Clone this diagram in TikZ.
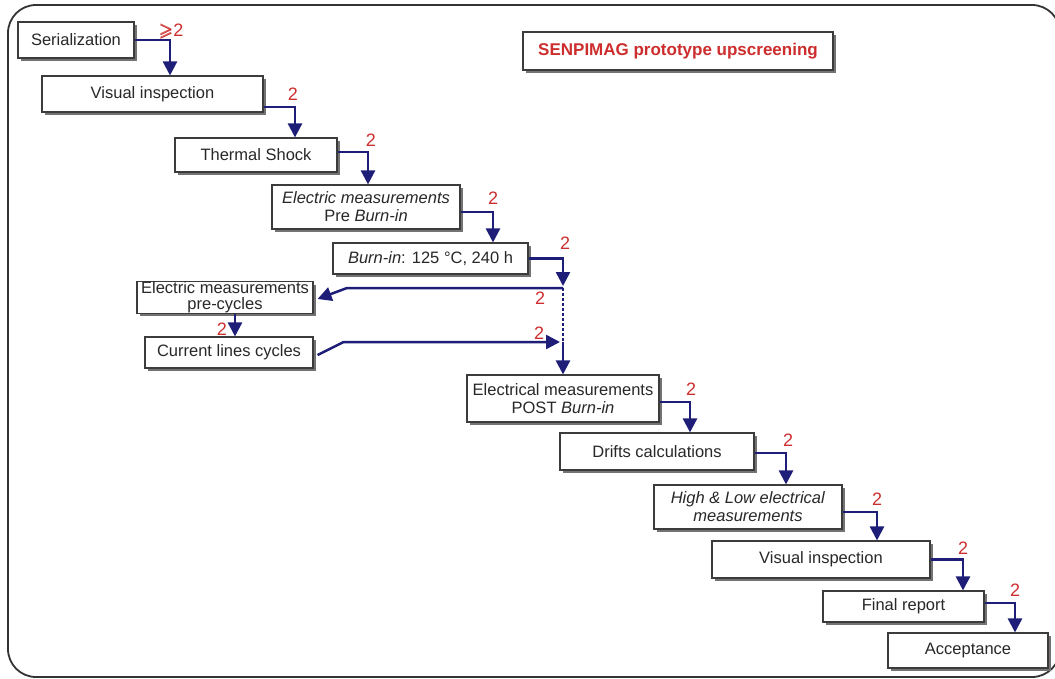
\documentclass[tikz,border=0pt]{standalone}
\usepackage{fontspec}
\setmainfont{Liberation Sans}
\usepackage{amssymb}
\usepackage{bm}
\usetikzlibrary{arrows.meta,shadows}
\definecolor{navy}{RGB}{30,30,120}
\definecolor{lblred}{RGB}{205,45,45}
\definecolor{boxline}{RGB}{60,60,60}
\definecolor{txt}{RGB}{40,40,40}
\begin{document}
\begin{tikzpicture}[x=1pt,y=-1pt,
  box/.style={draw=boxline, line width=1.1pt, fill=white, inner sep=0pt, align=center, text=txt,
    font=\fontsize{16.5}{18}\selectfont,
    drop shadow={shadow xshift=3pt, shadow yshift=-3pt, fill=black!55, opacity=1}},
  conn/.style={draw=navy, line width=2.5pt, -{Triangle[width=14pt,length=14pt]}},
  num/.style={text=lblred, font=\fontsize{18}{18}\selectfont, inner sep=0pt}]
\useasboundingbox (0,0) rectangle (1055,679);
% outer frame
\draw[draw=black!80, line width=1.8pt, rounded corners=28pt] (8,5) rectangle (1060,677);
% title
\node[box, text=lblred, font=\bfseries\fontsize{17}{18}\selectfont, minimum width=310pt, minimum height=38pt] (title) at (678,51) {SENPIMAG prototype upscreening};
% steps
\node[box, minimum width=116pt, minimum height=36pt] (ser) at (76,40) {Serialization};
\node[box, minimum width=221pt, minimum height=36pt] (vi1) at (152.5,94) {Visual inspection};
\node[box, minimum width=162pt, minimum height=34pt] (ts) at (256,155) {Thermal Shock};
\node[box, minimum width=188pt, minimum height=44pt] (em) at (366,207) {\textit{Electric measurements}\\Pre \textit{Burn-in}};
\node[box, minimum width=195pt, minimum height=31pt] (burn) at (430.5,258.5) {\textit{Burn-in}: 125 °C, 240 h};
\node[box, minimum width=176pt, minimum height=29pt, font=\fontsize{16.5}{16}\selectfont] (pre) at (225,297.5) {Electric measurements\\pre-cycles};
\node[box, minimum width=168pt, minimum height=31pt] (cur) at (229,352.5) {Current lines cycles};
\node[box, minimum width=192pt, minimum height=47pt] (post) at (563,398.5) {Electrical measurements\\POST \textit{Burn-in}};
\node[box, minimum width=194pt, minimum height=37pt] (dr) at (657,451.5) {Drifts calculations};
\node[box, minimum width=188pt, minimum height=44pt] (hl) at (748,507) {\textit{High \& Low electrical}\\\textit{measurements}};
\node[box, minimum width=218pt, minimum height=37pt] (vi2) at (821,559.5) {Visual inspection};
\node[box, minimum width=161pt, minimum height=31pt] (fr) at (903.5,606.5) {Final report};
\node[box, minimum width=160pt, minimum height=35pt] (acc) at (968,650.5) {Acceptance};
% junctions
\coordinate (J1) at (563,288);
\coordinate (J2) at (563,342);
% connectors
\draw[conn] (ser.east) -| ([xshift=17.5pt]vi1.north);
\draw[conn] ([yshift=-13pt]vi1.east) -| ([xshift=39pt]ts.north);
\draw[conn] ([yshift=3pt]ts.east) -| ([xshift=2pt]em.north);
\draw[conn] ([yshift=-5pt]em.east) -| ([xshift=62.5pt]burn.north);
\draw[conn] (burn.east) -| ([yshift=2pt]J1);
\draw[conn] (J1) -- ++(-216,0) -- ([xshift=4pt,yshift=-1.5pt]pre.east);
\draw[conn] ([xshift=10pt]pre.south) -- ([xshift=10pt]pre.south |- cur.north);
\draw[conn] ([xshift=4pt,yshift=-2.5pt]cur.east) -- ++(26,-13) -- ([xshift=-3pt]J2);
\draw[navy, line width=1.6pt, dash pattern=on 3pt off 2pt] (J1) -- (J2);
\draw[conn] (J2) -- (post.north);
\draw[conn] ([yshift=-3.5pt]post.east) -| ([xshift=33pt]dr.north);
\draw[conn] ([yshift=-1.5pt]dr.east) -| ([xshift=38pt]hl.north);
\draw[conn] ([yshift=-5pt]hl.east) -| ([xshift=56pt]vi2.north);
\draw[conn] (vi2.east) -| ([xshift=59.5pt]fr.north);
\draw[conn] ([yshift=3.5pt]fr.east) -| ([xshift=47pt]acc.north);
% labels
\node[num] (n1) at (171,31) {$\bm{\geqslant}$2};
\node[num] (n2) at (293,94) {2};
\node[num] (n3) at (371,140) {2};
\node[num] (n4) at (493,198) {2};
\node[num] (n5) at (565,243) {2};
\node[num] (n6) at (540,298) {2};
\node[num] (n7) at (539,333) {2};
\node[num] (n8) at (222,329) {2};
\node[num] (n9) at (691,389) {2};
\node[num] (n10) at (788,440) {2};
\node[num] (n11) at (877,499) {2};
\node[num] (n12) at (963,548) {2};
\node[num] (n13) at (1015,590) {2};
\end{tikzpicture}
\end{document}
